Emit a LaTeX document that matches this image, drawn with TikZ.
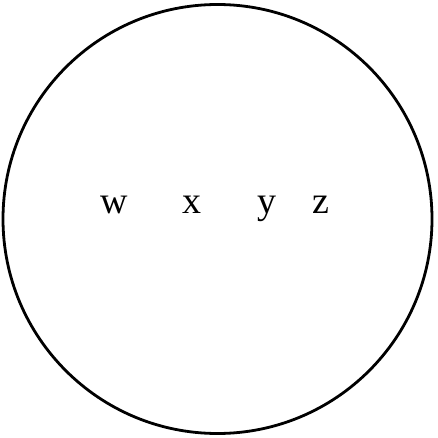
\documentclass[tikz,border=0pt]{standalone}
\usepackage{fontspec}
\setmainfont{Liberation Serif}
\begin{document}
\begin{tikzpicture}[x=1pt,y=-1pt,
  letter/.style={anchor=base,inner sep=0pt,font=\fontsize{38}{40}\selectfont}]
\useasboundingbox (0,0) rectangle (438,438);
\node[draw,circle,line width=2.8pt,minimum size=429pt,inner sep=0pt] (c) at (217.5,219) {};
\node[letter] (w) at (114.5,213) {w};
\node[letter] (x) at (191.5,213) {x};
\node[letter] (y) at (267,213) {y};
\node[letter] (z) at (320.5,213) {z};
\end{tikzpicture}
\end{document}
